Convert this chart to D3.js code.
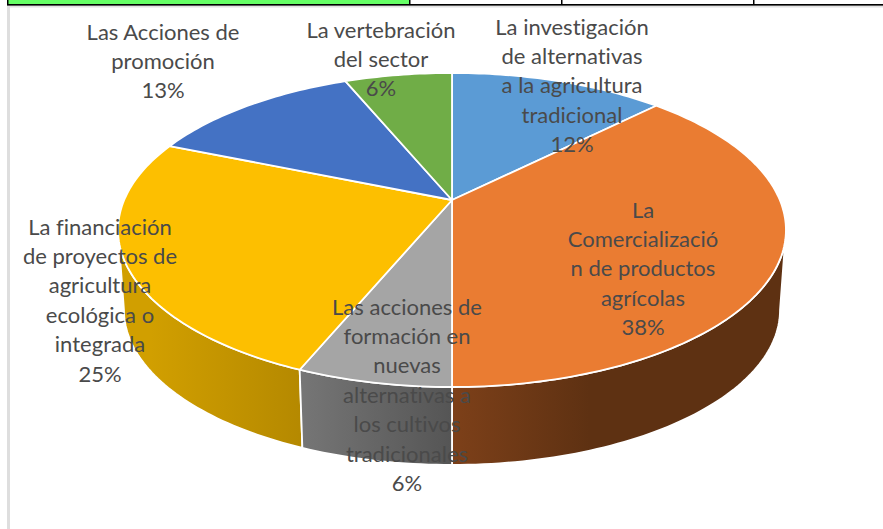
<!DOCTYPE html>
<html><head><meta charset="utf-8">
<style>html,body{margin:0;padding:0;background:#fff;overflow:hidden}svg{display:block}text{font-family:Lato,"Noto Sans",sans-serif;font-variant-ligatures:none}</style>
<script src="https://cdnjs.cloudflare.com/ajax/libs/d3/7.8.5/d3.min.js"></script>
</head><body><svg id="c" width="883" height="529"></svg>
<script>
const categories = ["La investigación de alternativas a la agricultura tradicional","La Comercialización de productos agrícolas","Las acciones de formación en nuevas alternativas a los cultivos tradicionales","La financiación de proyectos de agricultura ecológica o integrada","Las Acciones de promoción","La vertebración del sector"];
const values = [12.5,37.5,6.25,25,12.5,6.25];
const percentLabels = ["12%","38%","6%","25%","13%","6%"];
const labelLines = [
 ["La investigación","de alternativas","a la agricultura","tradicional"],
 ["La","Comercializació","n de productos","agrícolas"],
 ["Las acciones de","formación en","nuevas","alternativas a","los cultivos","tradicionales"],
 ["La financiación","de proyectos de","agricultura","ecológica o","integrada"],
 ["Las Acciones de","promoción"],
 ["La vertebración","del sector"]
];
const topColors = ["#5b9bd5","#ea7c32","#a5a5a5","#fdbf00","#4472c4","#70ad47"];
const sideLight = ["#5b9bd5","#7d4019","#767676","#d19f00","#4472c4","#70ad47"];
const sideDark = ["#5b9bd5","#5e3112","#555555","#b58900","#4472c4","#70ad47"];
const labelX = [572,643,407,100,163,381];
const labelTop = [26,209,306,226,31,29];

const svg = d3.select("#c");
const k = 0.191;
const rim = {cx:452, cy:200, a:327.8, b:151.3};
const base = {cx:452, cy:280.4, a:322, b:149.3};
function project(f,ang){
  const v=-Math.cos(ang), w=1-k*v;
  return [f.cx+f.a*Math.sin(ang)/w, f.cy+f.b*v/w];
}
const arcs = d3.pie().sort(null).value(d=>d)(values);
function arcPts(f,a0,a1){
  const n=Math.max(2,Math.ceil((a1-a0)/0.02));
  return d3.range(n+1).map(i=>project(f,a0+(a1-a0)*i/n));
}
const defs = svg.append("defs");
const line = d3.line();

// window frame
svg.append("rect").attr("x",8).attr("y",0).attr("width",401).attr("height",4).attr("fill","#66ff66");
svg.append("rect").attr("x",8).attr("y",5).attr("width",875).attr("height",2.5).attr("fill","#e2e2e2");
svg.append("rect").attr("x",7).attr("y",5).attr("width",3).attr("height",524).attr("fill","#dedede");
svg.append("rect").attr("x",7).attr("y",4).attr("width",876).attr("height",1.6).attr("fill","#000");
[[7,1.5],[409,1.5],[561,1.5],[753,1.5]].forEach(([x,w])=>svg.append("rect").attr("x",x).attr("y",0).attr("width",w).attr("height",5).attr("fill","#000"));

// side walls: only the part of the rim that faces the viewer
const silhouette = Math.acos(-k);
const visible0 = silhouette, visible1 = 2*Math.PI-silhouette;
const sideOrder = [1,3,2];
const gradX = {1:[452,590],2:[300,452],3:[150,300]};
sideOrder.forEach(i=>{
  const d=arcs[i];
  const a0=Math.max(d.startAngle,visible0), a1=Math.min(d.endAngle,visible1);
  const id="g"+i;
  const g=defs.append("linearGradient").attr("id",id).attr("gradientUnits","userSpaceOnUse")
    .attr("x1",gradX[i][0]).attr("x2",gradX[i][1]).attr("y1",0).attr("y2",0);
  g.append("stop").attr("offset",0).attr("stop-color",sideLight[i]);
  g.append("stop").attr("offset",1).attr("stop-color",sideDark[i]);
  const pts=arcPts(rim,a0,a1).concat(arcPts(base,a0,a1).reverse());
  svg.append("path").attr("d",line(pts)+"Z").attr("fill",`url(#${id})`).attr("stroke","#fff").attr("stroke-width",1.8).attr("stroke-linejoin","round");
});
// top faces
arcs.forEach((d,i)=>{
  const pts=[[rim.cx,rim.cy]].concat(arcPts(rim,d.startAngle,d.endAngle));
  svg.append("path").attr("d",line(pts)+"Z").attr("fill",topColors[i]).attr("stroke","#fff").attr("stroke-width",1.8).attr("stroke-linejoin","round");
});
// labels
const lh=29.4;
labelLines.forEach((ls,i)=>{
  const t=svg.append("text").attr("text-anchor","middle").attr("font-size",22).attr("fill","#4a4a4a");
  ls.concat(percentLabels[i]).forEach((s,j)=>{
    t.append("tspan").attr("x",labelX[i]).attr("y",labelTop[i]+j*lh).attr("dominant-baseline","central").text(s);
  });
});
</script></body></html>
